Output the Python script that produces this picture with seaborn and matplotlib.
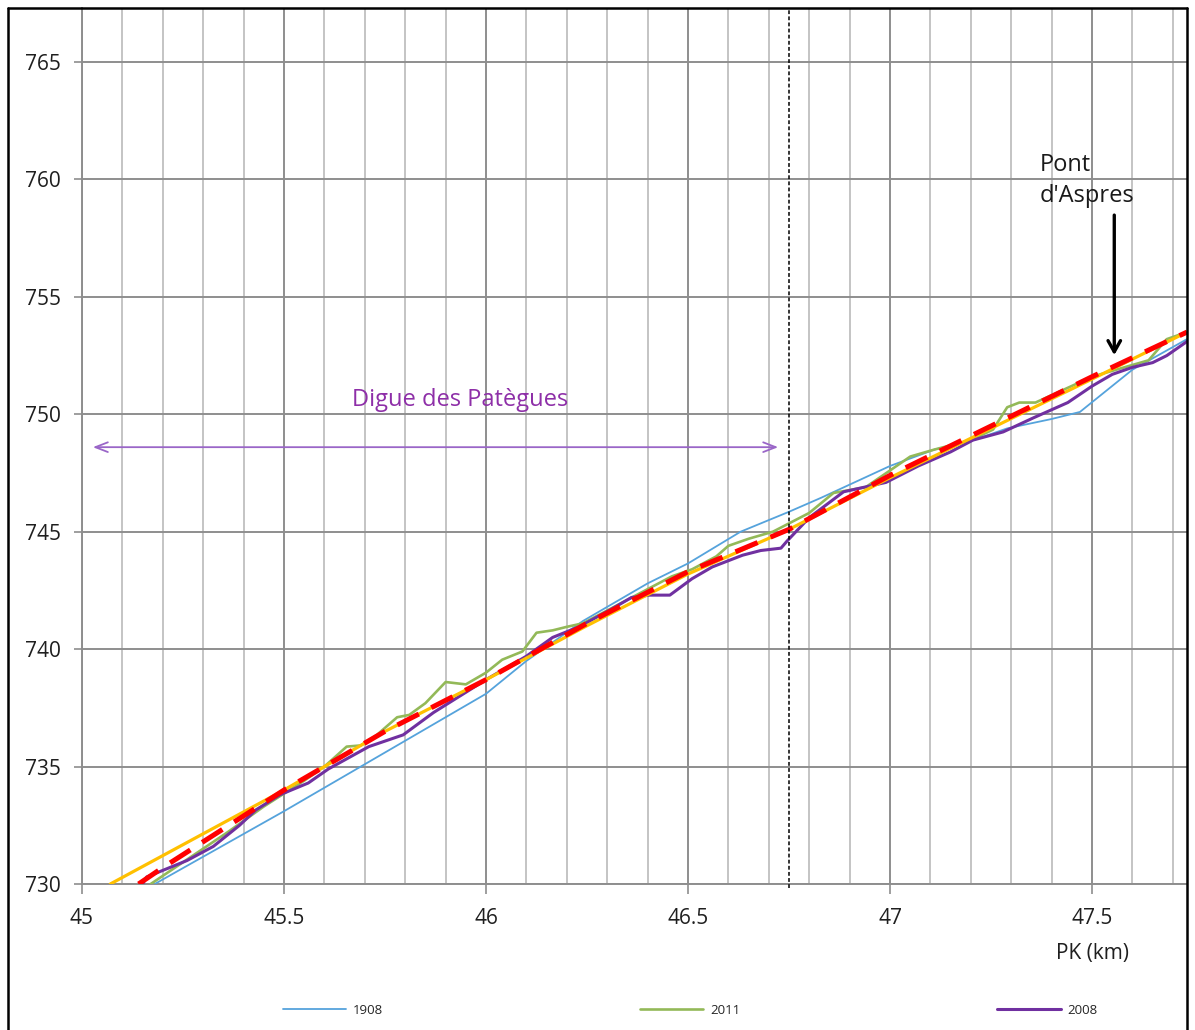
import matplotlib
matplotlib.use("Agg")
import matplotlib.pyplot as plt
from matplotlib.lines import Line2D
import numpy as np
import pandas as pd
import seaborn as sns

# ---- data ----
pk_1908 = [45.18, 45.5, 45.75, 45.94, 46.0, 46.1, 46.24, 46.4, 46.5, 46.63, 46.75, 46.83,
           47.0, 47.11, 47.19, 47.29, 47.4, 47.47, 47.6, 47.735]
z_1908 = [730, 733.1, 735.6, 737.5, 738.1, 739.5, 741.2, 742.8, 743.65, 745.0, 745.85, 746.45,
          747.8, 748.5, 748.8, 749.4, 749.8, 750.1, 751.9, 753.2]

pk_2011 = [45.17, 45.36, 45.45, 45.55, 45.6, 45.655, 45.69, 45.73, 45.78, 45.81, 45.85, 45.90,
           45.95, 46.0, 46.04, 46.09, 46.125, 46.165, 46.2, 46.24, 46.35, 46.46, 46.51, 46.57,
           46.60, 46.65, 46.71, 46.80, 46.86, 46.94, 47.05, 47.11, 47.2, 47.255, 47.29, 47.32,
           47.36, 47.5, 47.64, 47.685, 47.735]
z_2011 = [730, 732.2, 733.3, 734.4, 735.0, 735.85, 735.9, 736.35, 737.1, 737.2, 737.7, 738.6,
          738.5, 739.0, 739.55, 739.9, 740.7, 740.8, 740.95, 741.1, 742.1, 743.1, 743.4, 743.95,
          744.4, 744.7, 745.0, 745.8, 746.65, 746.9, 748.2, 748.5, 748.9, 749.35, 750.3, 750.5,
          750.5, 751.6, 752.3, 753.2, 753.5]

pk_2008 = [45.15, 45.16, 45.26, 45.325, 45.39, 45.43, 45.49, 45.56, 45.61, 45.71, 45.795, 45.87,
           46.0, 46.10, 46.165, 46.23, 46.31, 46.36, 46.405, 46.455, 46.51, 46.56, 46.635, 46.68,
           46.73, 46.745, 46.80, 46.885, 46.99, 47.07, 47.15, 47.205, 47.28, 47.355, 47.44, 47.50,
           47.55, 47.60, 47.65, 47.685, 47.735]
z_2008 = [730, 730.3, 731.0, 731.6, 732.5, 733.15, 733.8, 734.3, 734.9, 735.85, 736.35, 737.3,
          738.7, 739.7, 740.5, 740.95, 741.7, 742.2, 742.3, 742.3, 743.0, 743.5, 744.0, 744.2,
          744.3, 744.6, 745.6, 746.7, 747.1, 747.8, 748.4, 748.9, 749.25, 749.85, 750.5, 751.2,
          751.7, 752.0, 752.2, 752.5, 753.1]

pk_trend = [45.07, 45.5, 45.75, 46.0, 46.25, 46.5, 46.75, 47.0, 47.25, 47.5, 47.735]
z_trend = [730, 734.0, 736.5, 738.7, 741.0, 743.2, 745.1, 747.3, 749.4, 751.5, 753.5]

pk_red = [45.14, 45.2, 45.3, 45.4, 45.5, 45.75, 46.0, 46.25, 46.5, 46.75, 47.0, 47.25, 47.5, 47.735]
z_red = [730, 730.7, 731.8, 732.9, 734.0, 736.5, 738.7, 741.1, 743.3, 745.1, 747.4, 749.5, 751.6, 753.5]

x_ticks = [45, 45.5, 46, 46.5, 47, 47.5]
y_ticks = [730, 735, 740, 745, 750, 755, 760, 765]

sns.set_style("white")
plt.rcParams['font.family'] = ['Open Sans', 'DejaVu Sans']

W, H = 1195, 1030
fig = plt.figure(figsize=(W / 100, H / 100), dpi=100)
ax = fig.add_axes([82 / W, 1 - 884 / H, (1187 - 82) / W, (884 - 8) / H])

c_blue = "#55A3DC"
c_green = "#93B958"
c_purple = "#7030A0"

sns.lineplot(x=pk_1908, y=z_1908, ax=ax, color=c_blue, lw=1.3, sort=False, estimator=None, label="1908", zorder=3)
sns.lineplot(x=pk_2011, y=z_2011, ax=ax, color=c_green, lw=1.9, sort=False, estimator=None, label="2011", zorder=3)
sns.lineplot(x=pk_2008, y=z_2008, ax=ax, color=c_purple, lw=2.2, sort=False, estimator=None, label="2008", zorder=3)
sns.lineplot(x=pk_trend, y=z_trend, ax=ax, color="#FFC000", lw=2.3, sort=False, estimator=None, legend=False, zorder=4)
sns.lineplot(x=pk_red, y=z_red, ax=ax, color="#FF0000", lw=3.6, sort=False, estimator=None, legend=False, zorder=5,
             dashes=False)
ax.lines[-1].set_linestyle((0, (4.8, 2.8)))

ax.set_xlim(45, 47.735)
ax.set_ylim(730, 767.3)
ax.set_xticks(x_ticks)
ax.set_xticklabels(["45", "45.5", "46", "46.5", "47", "47.5"])
ax.set_xticks(np.arange(45.1, 47.75, 0.1), minor=True)
ax.set_yticks(y_ticks)
ax.set_yticklabels([str(v) for v in y_ticks])

ax.grid(which="minor", axis="x", color="#C4C4C4", lw=1.4, zorder=0)
ax.grid(which="major", axis="both", color="#8E8E8E", lw=1.4, zorder=0)
ax.set_axisbelow(True)

ax.tick_params(axis="x", which="major", direction="out", length=7, width=1.2, color="#8E8E8E",
               pad=10, labelsize=15, labelcolor="#1f1f1f", bottom=True)
ax.tick_params(axis="x", which="minor", length=0)
ax.tick_params(axis="y", which="major", direction="out", length=6, width=1.2, color="#8E8E8E",
               pad=9, labelsize=15, labelcolor="#1f1f1f", left=True)

for s in ["top", "right"]:
    ax.spines[s].set_visible(False)
for s in ["left", "bottom"]:
    ax.spines[s].set_color("#8E8E8E")
    ax.spines[s].set_linewidth(1.4)

ax.set_xlabel("PK (km)", fontsize=15, color="#1f1f1f")
ax.xaxis.set_label_coords((1093 - 82) / (1187 - 82), (884 - 943) / (884 - 8))
ax.set_ylabel("")

# vertical dashed line
ax.axvline(46.75, color="black", lw=1.1, ls=(0, (2.5, 1.5)), zorder=6, ymin=-0.005, clip_on=False)

# Digue annotation
ax.annotate("", xy=(45.02, 748.6), xytext=(46.73, 748.6),
            arrowprops=dict(arrowstyle="<->,head_length=0.9,head_width=0.35", color="#9A66C8", lw=1.3))
ax.text(45.935, 750.6, "Digue des Patègues", color="#8E2FA8", fontsize=17, ha="center", va="center")

# Pont d'Aspres annotation
ax.text(47.37, 759.95, "Pont\nd'Aspres", color="#1a1a1a", fontsize=17, ha="left", va="center",
        linespacing=1.42)
ax.annotate("", xy=(47.555, 752.4), xytext=(47.555, 758.6),
            arrowprops=dict(arrowstyle="->,head_length=0.8,head_width=0.45", color="black", lw=2.4))

# legend
handles, labels = ax.get_legend_handles_labels()
if ax.legend_:
    ax.legend_.remove()
fig.legend(handles, labels, loc="center", bbox_to_anchor=(690 / W, 1 - 1010 / H), ncol=3,
           frameon=False, fontsize=9.5, handlelength=4.8, handletextpad=0.5, columnspacing=19.5)

# figure border
for (xs, ys) in [([8 / W, 8 / W], [0, 1 - 8 / H]),
                 ([8 / W, 1187 / W], [1 - 8 / H, 1 - 8 / H]),
                 ([1187 / W, 1187 / W], [0, 1 - 8 / H])]:
    fig.add_artist(Line2D(xs, ys, transform=fig.transFigure, color="black", lw=1.8))

fig.savefig("out.png", dpi=100)
